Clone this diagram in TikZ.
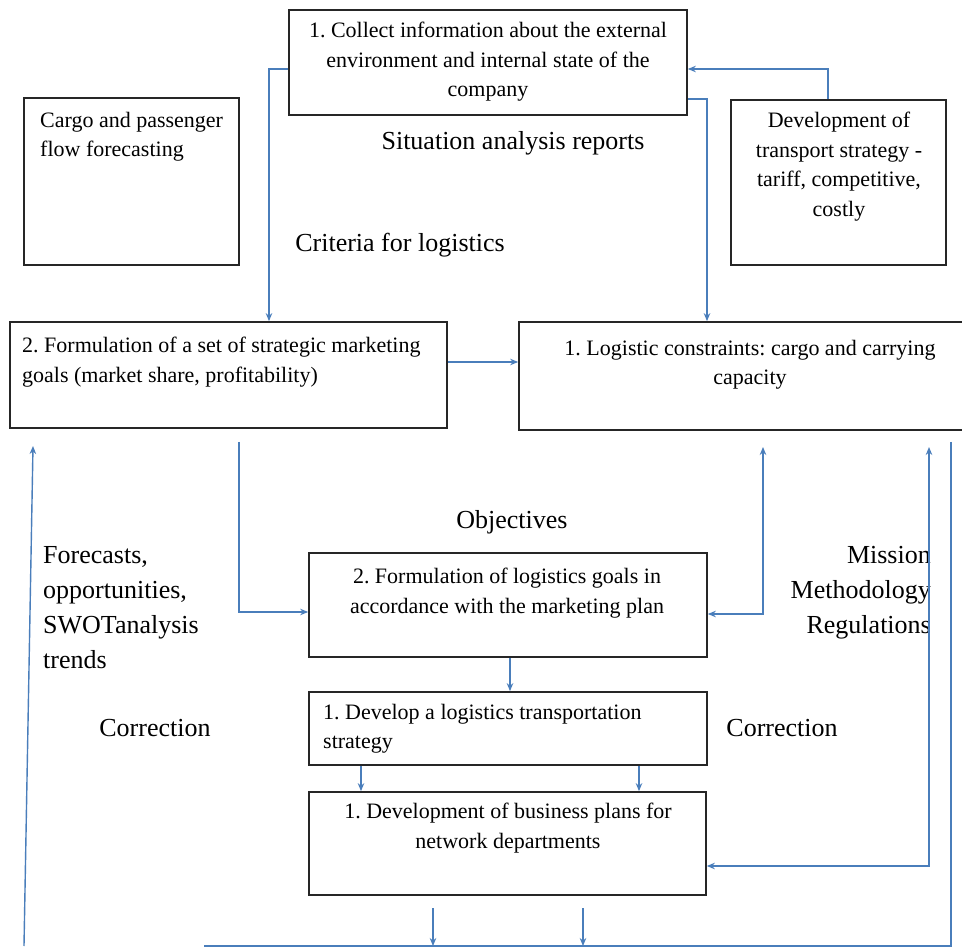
\documentclass[tikz,border=0pt]{standalone}
\usepackage{fontspec}
\setmainfont{Liberation Serif}
\usetikzlibrary{arrows.meta,calc}
\definecolor{arrblue}{HTML}{4A7EBB}
\begin{document}
\frenchspacing
\begin{tikzpicture}[x=1pt,y=-1pt,
  box/.style={draw=black!85,line width=1.7pt,inner sep=0pt,fill=white},
  btext/.style={inner sep=0pt,font=\fontsize{22}{29.5}\selectfont},
  lbl/.style={inner sep=0pt,font=\fontsize{26}{35}\selectfont},
  conn/.style={draw=arrblue,line width=1.4pt},
  arr/.style={conn,-{Stealth[length=8pt,width=6.5pt]}},
  dbl/.style={conn,{Stealth[length=8pt,width=6.5pt]}-{Stealth[length=8pt,width=6.5pt]}}]
\useasboundingbox (0,0) rectangle (962,949);
\fill[white] (0,0) rectangle (962,949);
% boxes
\node[box,minimum width=398pt,minimum height=105pt] (A) at (488,62.5) {};
\node[box,minimum width=215pt,minimum height=167pt] (B) at (131.5,181.5) {};
\node[box,minimum width=215pt,minimum height=165pt] (C) at (838.5,182.5) {};
\node[box,minimum width=437pt,minimum height=106pt] (D) at (228.5,375) {};
\node[box,minimum width=445pt,minimum height=108pt] (E) at (741.5,376) {};
\node[box,minimum width=398pt,minimum height=104pt] (F) at (508,605) {};
\node[box,minimum width=398pt,minimum height=73pt] (G) at (508,728.5) {};
\node[box,minimum width=397pt,minimum height=103pt] (H) at (507.5,843.5) {};
% box texts
\node[btext,anchor=north,align=center] (At) at (488,22) {1. Collect information about the external\\environment and internal state of the\\company};
\node[btext,anchor=north west,align=left] (Bt) at (40,112) {Cargo and passenger\\flow forecasting};
\node[btext,anchor=north,align=center] (Ct) at (839,112) {Development of\\transport strategy -\\tariff, competitive,\\costly};
\node[btext,anchor=north west,align=left] (Dt) at (22,337) {2. Formulation of a set of strategic marketing\\goals (market share, profitability)};
\node[btext,anchor=north,align=center] (Et) at (750,340) {1. Logistic constraints: cargo and carrying\\capacity};
\node[btext,anchor=north,align=center] (Ft) at (507,568) {2. Formulation of logistics goals in\\accordance with the marketing plan};
\node[btext,anchor=north west,align=left] (Gt) at (323,704) {1. Develop a logistics transportation\\strategy};
\node[btext,anchor=north,align=center] (Ht) at (508,803) {1. Development of business plans for\\network departments};
% labels
\node[lbl] (L1) at (513,143) {Situation analysis reports};
\node[lbl] (L2) at (400,245) {Criteria for logistics};
\node[lbl] (L3) at (512,522) {Objectives};
\node[lbl,anchor=north west,align=left] (L4) at (43,546) {Forecasts,\\opportunities,\\SWOTanalysis\\trends};
\node[lbl] (L5) at (155,728) {Correction};
\node[lbl] (L6) at (782,728) {Correction};
\node[lbl,anchor=north east,align=right] (L7) at (931,546) {Mission\\Methodology\\Regulations};
% helper coordinates
\coordinate (c1) at (269,69);
\coordinate (c2) at (828,69);
\coordinate (c3) at (707,99);
\coordinate (c4) at (0,362);
\coordinate (c5s) at (239,442);
\coordinate (c5) at (239,612);
\coordinate (c6) at (763,447);
\coordinate (c6b) at (0,614);
\coordinate (c7) at (929,447);
\coordinate (c7b) at (0,866);
\coordinate (r1) at (951,442);
\coordinate (r2) at (204,946);
\coordinate (l1) at (24,946);
\coordinate (l2) at (33,446);
\coordinate (h1) at (433,908);
\coordinate (h1e) at (433,946);
\coordinate (h2) at (583,908);
\coordinate (h2e) at (583,946);
\coordinate (fg) at (510,0);
\coordinate (gh1) at (361,0);
\coordinate (gh2) at (639,0);
% connectors
\draw[arr] (A.west |- c1) -| (D.north -| c1);
\draw[arr] (C.north -| c2) |- (A.east |- c2);
\draw[arr] (A.east |- c3) -| (E.north -| c3);
\draw[arr] (D.east |- c4) -- (E.west |- c4);
\draw[arr] (c5s) |- (F.west |- c5);
\draw[dbl] (c6) |- (F.east |- c6b);
\draw[dbl] (c7) |- (H.east |- c7b);
\draw[conn] (r1) |- (r2);
\draw[arr] (l1) -- (l2);
\draw[arr] (h1) -- (h1e);
\draw[arr] (h2) -- (h2e);
\draw[arr] (F.south -| fg) -- (G.north -| fg);
\draw[arr] (G.south -| gh1) -- (H.north -| gh1);
\draw[arr] (G.south -| gh2) -- (H.north -| gh2);
\end{tikzpicture}
\end{document}
